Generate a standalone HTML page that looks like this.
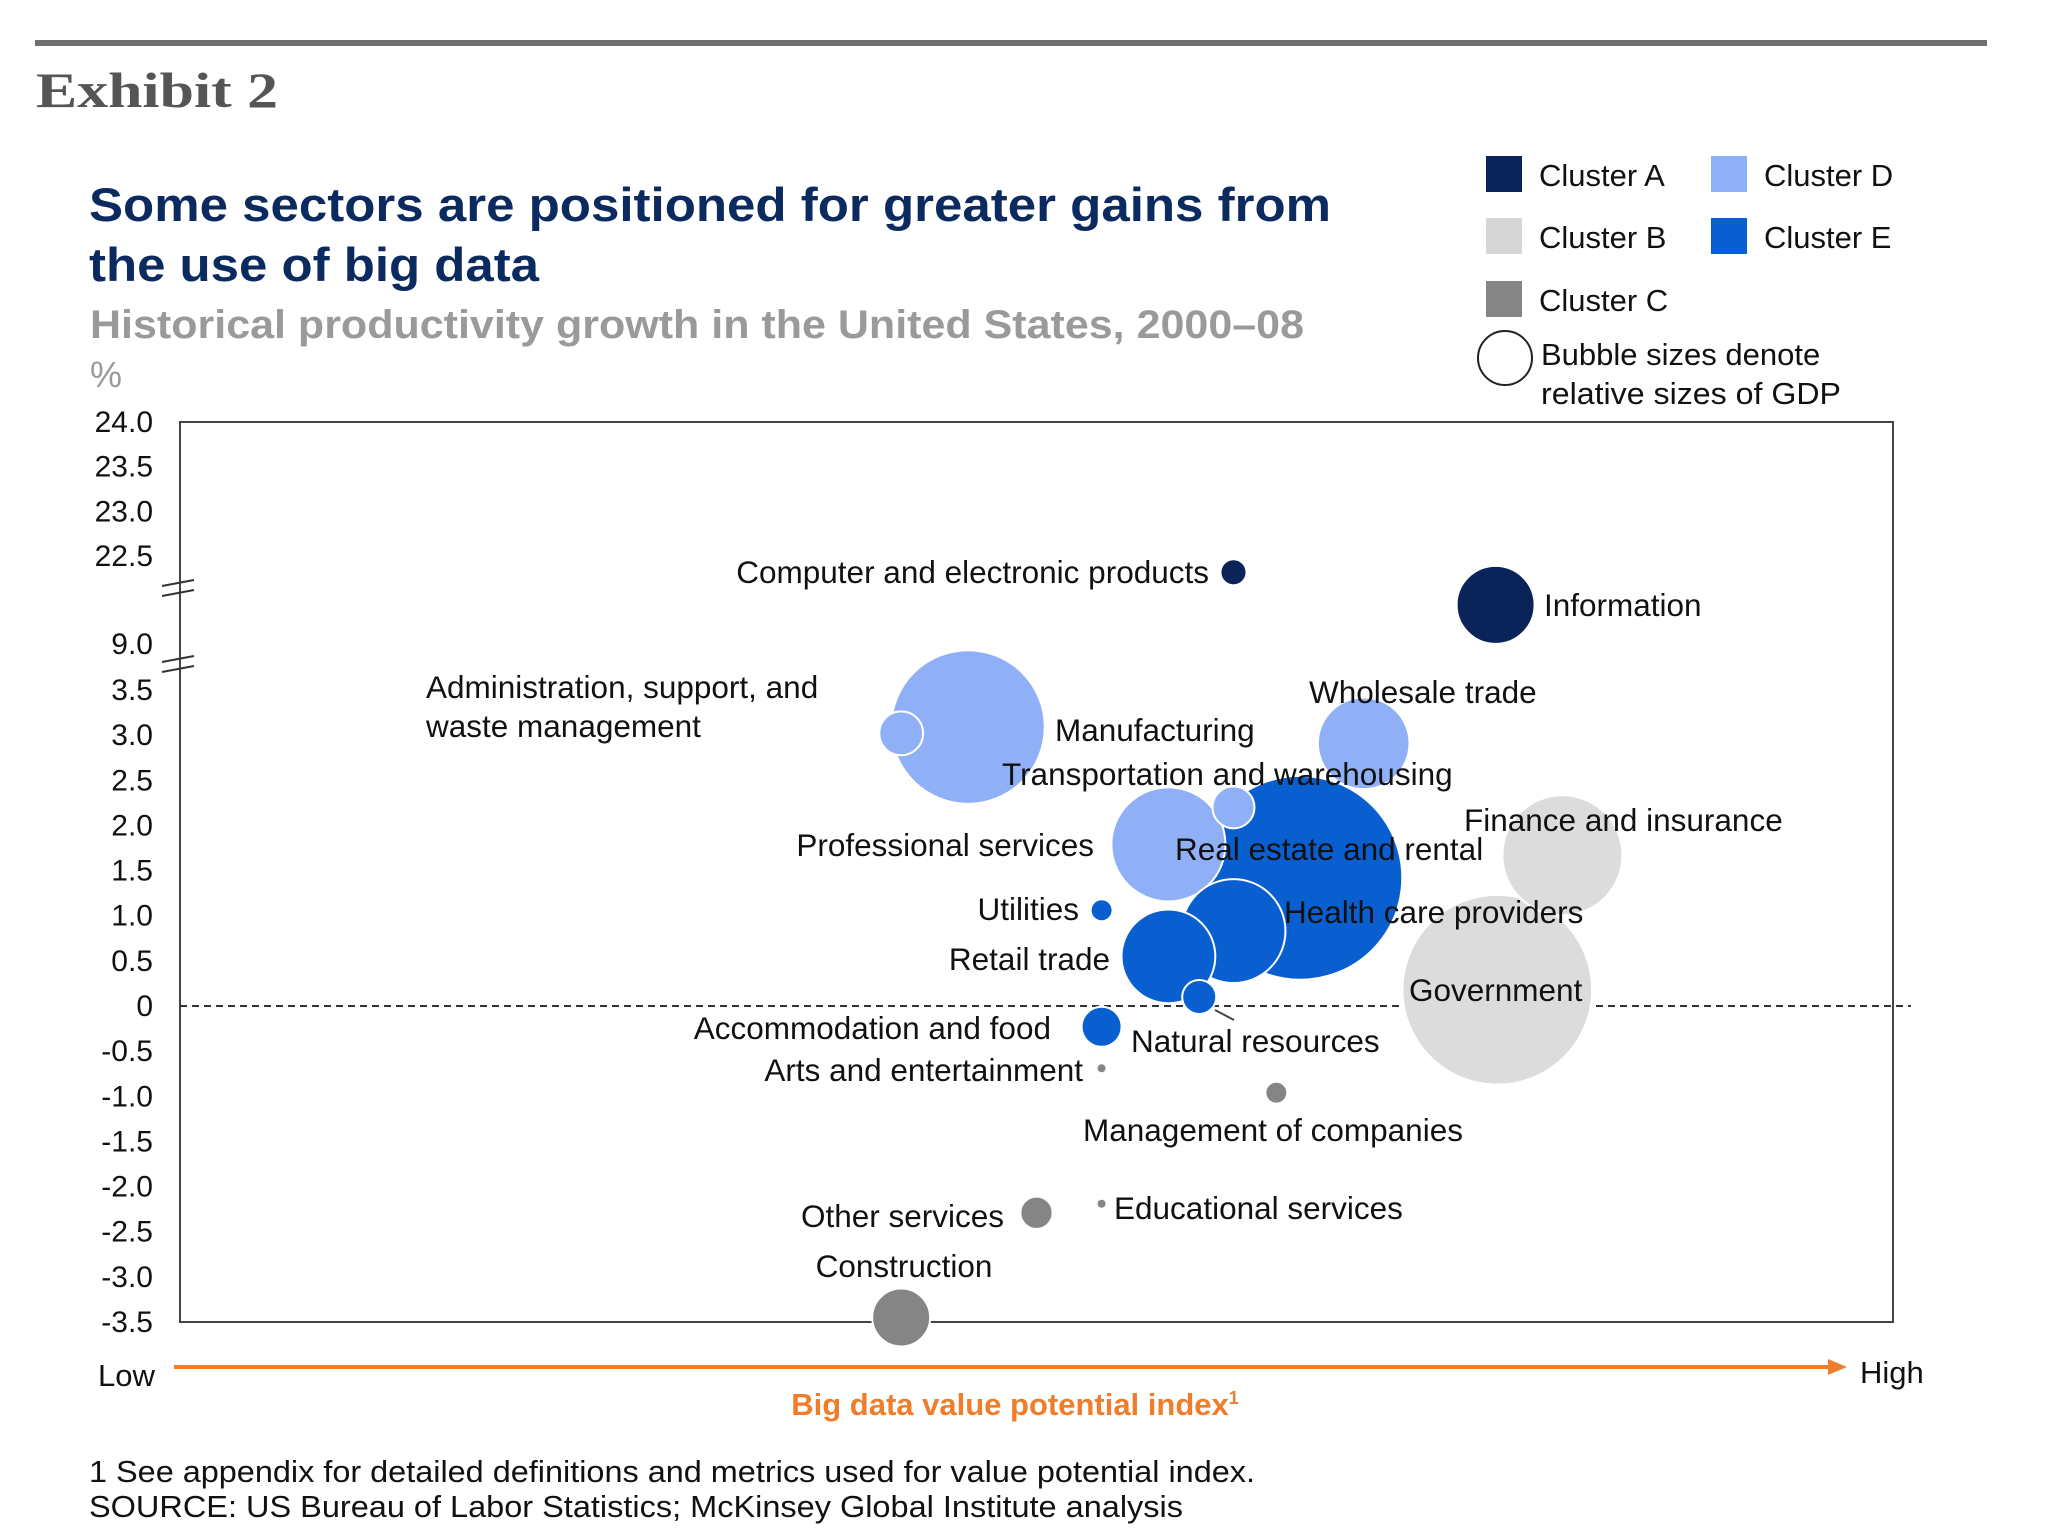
<!DOCTYPE html>
<html><head><meta charset="utf-8">
<style>
html,body{margin:0;padding:0;background:#fff;}
body{width:2048px;height:1536px;overflow:hidden;position:relative;font-family:"Liberation Sans",sans-serif;}
svg{position:absolute;left:0;top:0;}
</style></head>
<body>
<svg id="chart" width="2048" height="1536" viewBox="0 0 2048 1536">
  <rect x="35" y="40" width="1952" height="6" fill="#6f6f6f"/>
  <text x="36" y="107" font-family="Liberation Serif, serif" font-weight="bold" font-size="50" fill="#555" textLength="242" lengthAdjust="spacingAndGlyphs">Exhibit 2</text>
  <text x="89" y="221" font-weight="bold" font-size="47" fill="#0b2b60" textLength="1242" lengthAdjust="spacingAndGlyphs">Some sectors are positioned for greater gains from</text>
  <text x="89" y="281" font-weight="bold" font-size="47" fill="#0b2b60" textLength="450" lengthAdjust="spacingAndGlyphs">the use of big data</text>
  <text x="90" y="338" font-weight="bold" font-size="40" fill="#9a9a9a" textLength="1214" lengthAdjust="spacingAndGlyphs">Historical productivity growth in the United States, 2000–08</text>
  <text x="90" y="387" font-size="36" fill="#9a9a9a">%</text>

  <g font-size="31" fill="#111">
    <rect x="1486" y="156" width="36" height="36" fill="#0a2459"/>
    <text x="1539" y="186">Cluster A</text>
    <rect x="1486" y="218" width="36" height="36" fill="#d6d6d6"/>
    <text x="1539" y="248">Cluster B</text>
    <rect x="1486" y="281" width="36" height="36" fill="#858585"/>
    <text x="1539" y="311">Cluster C</text>
    <rect x="1711" y="156" width="36" height="36" fill="#8fb0f7"/>
    <text x="1764" y="186">Cluster D</text>
    <rect x="1711" y="218" width="36" height="36" fill="#0a5fd0"/>
    <text x="1764" y="248">Cluster E</text>
    <circle cx="1505" cy="358" r="27" fill="#fff" stroke="#222" stroke-width="2"/>
    <text x="1541" y="365">Bubble sizes denote</text>
    <text x="1541" y="404" textLength="300" lengthAdjust="spacingAndGlyphs">relative sizes of GDP</text>
  </g>

  <rect x="180" y="422" width="1713" height="900" fill="none" stroke="#444" stroke-width="2"/>
  <g id="yaxis"></g>
  <g id="breaks" stroke="#333" stroke-width="2">
    <line x1="162" y1="586" x2="194" y2="580"/><line x1="162" y1="596" x2="194" y2="590"/>
    <line x1="162" y1="662" x2="194" y2="656"/><line x1="162" y1="672" x2="194" y2="666"/>
  </g>
  <line id="zero" x1="180" x2="1911" stroke="#333" stroke-width="2" stroke-dasharray="7,5"/>
  <g id="bubbles"></g>
  <line x1="1215" y1="1010" x2="1234" y2="1020" stroke="#444" stroke-width="2"/>
  <g id="labels" font-size="31.5" fill="#111"></g>

  <g>
    <line x1="174" y1="1367" x2="1830" y2="1367" stroke="#f07d2a" stroke-width="4"/>
    <polygon points="1828,1359 1847,1367 1828,1375" fill="#f07d2a"/>
    <text x="98" y="1386" font-size="31" fill="#111">Low</text>
    <text x="1860" y="1383" font-size="31" fill="#111">High</text>
    <text x="1015" y="1415" text-anchor="middle" font-size="31" font-weight="bold" fill="#f07d2a">Big data value potential index<tspan font-size="18" dy="-11">1</tspan></text>
  </g>
  <text x="89" y="1482" font-size="31" fill="#111" textLength="1166" lengthAdjust="spacingAndGlyphs">1  See appendix for detailed definitions and metrics used for value potential index.</text>
  <text x="89" y="1517" font-size="31" fill="#111" textLength="1094" lengthAdjust="spacingAndGlyphs">SOURCE:  US Bureau of Labor Statistics; McKinsey Global Institute analysis</text>
</svg>
<script>
const sectors = ["Computer and electronic products","Information","Administration","Manufacturing","Wholesale trade","Transportation and warehousing","Professional services","Real estate and rental","Finance and insurance","Health care providers","Retail trade","Utilities","Natural resources","Government","Accommodation and food","Arts and entertainment","Management of companies","Other services","Educational services","Construction"];
const clusters = ["A","A","D","D","D","D","D","E","B","E","E","E","E","B","E","C","C","C","C","C"];
const indexValues = [61.5,76.8,42.1,46.0,69.1,61.5,57.7,65.4,80.7,61.5,57.7,53.8,59.5,76.9,53.8,53.8,64.0,50.0,53.8,42.1];
const growthValues = [20.0,15.0,3.02,3.09,2.91,2.2,1.79,1.42,1.67,0.83,0.55,1.06,0.1,0.18,-0.23,-0.69,-0.96,-2.29,-2.19,-3.45];
const gdpSizes = [1.7,15.2,4.8,59,21,4.4,32.5,104,36,27,22,1.0,2.9,90,4.0,0.16,1.2,2.6,0.16,8.4];
const yTickLabels = ["24.0","23.5","23.0","22.5","9.0","3.5","3.0","2.5","2.0","1.5","1.0","0.5","0","-0.5","-1.0","-1.5","-2.0","-2.5","-3.0","-3.5"];
const yTickValues = [24,23.5,23,22.5,9,3.5,3,2.5,2,1.5,1,0.5,0,-0.5,-1,-1.5,-2,-2.5,-3,-3.5];

const NS="http://www.w3.org/2000/svg";
const colors={A:"#0a2459",B:"#dcdcdc",C:"#858585",D:"#8fb0f7",E:"#0a5fd0"};
const yBreaks=[[-3.5,1322],[3.5,690],[9,644],[22.5,556],[24,422]];
function yScale(v){
  for(let i=0;i<yBreaks.length-1;i++){
    const [a,ya]=yBreaks[i],[b,yb]=yBreaks[i+1];
    if(v<=b||i===yBreaks.length-2) return ya+(v-a)/(b-a)*(yb-ya);
  }
}
function xScale(v){return 180+v*(1893-180)/100;}
function rScale(s){return 10*Math.sqrt(s);}

const yaxis=document.getElementById('yaxis');
yTickLabels.forEach((lab,i)=>{
  const t=document.createElementNS(NS,'text');
  t.setAttribute('x',153);t.setAttribute('y',yScale(yTickValues[i])+10);
  t.setAttribute('text-anchor','end');t.setAttribute('font-size','30');t.setAttribute('fill','#111');
  t.textContent=lab;
  
  
  yaxis.appendChild(t);
});
const z=document.getElementById('zero');
z.setAttribute('y1',yScale(0));z.setAttribute('y2',yScale(0));

const order=sectors.map((s,i)=>i).sort((a,b)=>gdpSizes[b]-gdpSizes[a]);
const g=document.getElementById('bubbles');
order.forEach(i=>{
  const c=document.createElementNS(NS,'circle');
  c.setAttribute('cx',xScale(indexValues[i]));c.setAttribute('cy',yScale(growthValues[i]));
  c.setAttribute('r',rScale(gdpSizes[i]));c.setAttribute('fill',colors[clusters[i]]);
  c.setAttribute('stroke','#fff');c.setAttribute('stroke-width',gdpSizes[i]>1?2:0);
  
  
  g.appendChild(c);
});

const labelItems=[
 ["Computer and electronic products",1209,572,"end"],
 ["Information",1544,605,"start"],
 ["Administration, support, and",426,687,"start"],
 ["waste management",426,726,"start"],
 ["Manufacturing",1055,730,"start"],
 ["Wholesale trade",1309,692,"start"],
 ["Transportation and warehousing",1002,774,"start"],
 ["Professional services",1094,845,"end"],
 ["Real estate and rental",1175,849,"start"],
 ["Finance and insurance",1464,820,"start"],
 ["Utilities",1079,909,"end"],
 ["Health care providers",1284,912,"start"],
 ["Retail trade",1110,959,"end"],
 ["Government",1409,990,"start"],
 ["Accommodation and food",1051,1028,"end"],
 ["Natural resources",1131,1041,"start"],
 ["Arts and entertainment",1083,1070,"end"],
 ["Management of companies",1083,1130,"start"],
 ["Other services",1004,1216,"end"],
 ["Educational services",1114,1208,"start"],
 ["Construction",904,1266,"middle"]
];
const lg=document.getElementById('labels');
labelItems.forEach(l=>{
  const t=document.createElementNS(NS,'text');
  t.setAttribute('x',l[1]);t.setAttribute('y',l[2]+11);t.setAttribute('text-anchor',l[3]);
  t.textContent=l[0];
  
  
  lg.appendChild(t);
});
</script>
</body></html>
